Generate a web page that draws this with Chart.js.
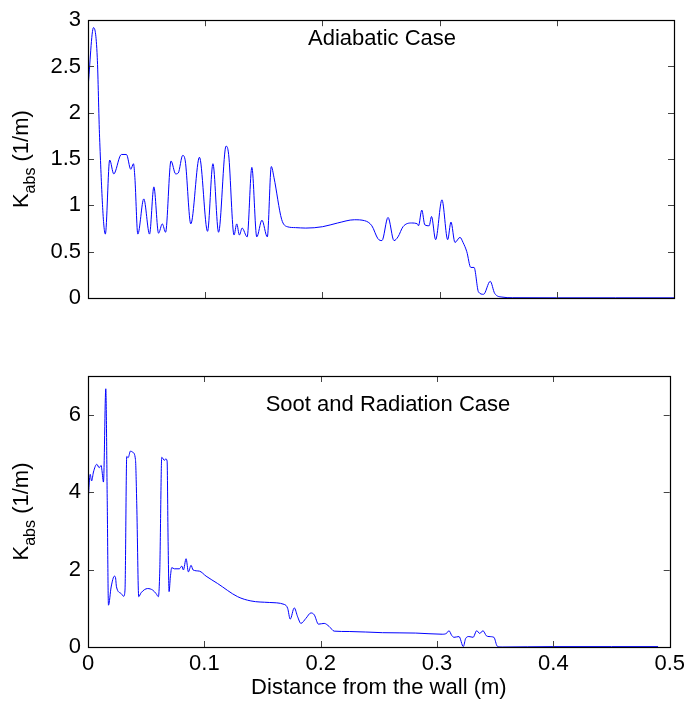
<!DOCTYPE html>
<html>
<head>
<meta charset="utf-8">
<script src="https://cdn.jsdelivr.net/npm/chart.js@4/dist/chart.umd.min.js"></script>
<style>
html,body{margin:0;padding:0;background:#fff;}
#wrap{position:relative;width:689px;height:703px;}
canvas{position:absolute;left:0;}
</style>
</head>
<body>
<div id="wrap">
<canvas id="c1" width="689" height="345" style="top:0px"></canvas>
<canvas id="c2" width="689" height="358" style="top:345px"></canvas>
</div>
<script>
// ---------- data ----------
const adiabaticX = [0, 0.0047, 0.0079, 0.0099, 0.0148, 0.0185, 0.022, 0.0228, 0.0285, 0.0328, 0.0365, 0.0388, 0.040, 0.0425, 0.0476, 0.0525, 0.0562, 0.0602, 0.0634, 0.0662, 0.0708, 0.0748, 0.077, 0.0808, 0.083, 0.0877, 0.0951, 0.102, 0.1066, 0.1114, 0.1178, 0.120, 0.1246, 0.1269, 0.1292, 0.1315, 0.1358, 0.1398, 0.144, 0.1484, 0.153, 0.1564, 0.1587, 0.1652, 0.170, 0.177, 0.1858, 0.2002, 0.213, 0.2273, 0.236, 0.2422, 0.2474, 0.2508, 0.256, 0.2611, 0.2645, 0.2688, 0.276, 0.2811, 0.282, 0.2848, 0.2874, 0.2911, 0.2931, 0.2966, 0.302, 0.3069, 0.3097, 0.3131, 0.3174, 0.32, 0.3232, 0.3266, 0.3294, 0.3332, 0.3375, 0.3432, 0.347, 0.3532, 0.362, 0.40, 0.45, 0.50];
const adiabaticK = [2.27, 2.92, 2.6, 1.73, 0.69, 1.49, 1.34, 1.35, 1.55, 1.55, 1.39, 1.45, 1.3, 0.69, 1.07, 0.69, 1.2, 0.7, 0.8, 0.71, 1.48, 1.34, 1.35, 1.54, 1.48, 0.8, 1.52, 0.72, 1.45, 0.71, 1.64, 1.55, 0.68, 0.8, 0.68, 0.755, 0.66, 1.41, 0.66, 0.84, 0.66, 1.42, 1.3, 0.85, 0.77, 0.76, 0.755, 0.77, 0.81, 0.845, 0.835, 0.78, 0.64, 0.62, 0.87, 0.62, 0.66, 0.77, 0.81, 0.8, 0.78, 0.95, 0.79, 0.78, 0.88, 0.63, 1.06, 0.63, 0.82, 0.6, 0.655, 0.6, 0.5, 0.33, 0.33, 0.065, 0.04, 0.18, 0.05, 0.01, 0.003, 0.002, 0.002, 0.002];

const sootX = [0, 0.0019, 0.0031, 0.0047, 0.0076, 0.0096, 0.0113, 0.012, 0.0133, 0.0153, 0.0165, 0.0176, 0.0199, 0.0227, 0.0236, 0.0245, 0.0285, 0.0307, 0.0318, 0.0333, 0.0345, 0.0365, 0.0385, 0.0408, 0.0419, 0.0436, 0.0456, 0.0513, 0.0556, 0.0585, 0.0605, 0.0617, 0.0634, 0.0657, 0.0668, 0.068, 0.0688, 0.0697, 0.0708, 0.072, 0.0742, 0.0785, 0.0806, 0.082, 0.0843, 0.0863, 0.0886, 0.0903, 0.0957, 0.1015, 0.1114, 0.1286, 0.14, 0.1558, 0.1687, 0.1716, 0.1738, 0.1773, 0.1802, 0.183, 0.1873, 0.1916, 0.1945, 0.1981, 0.203, 0.2073, 0.2116, 0.2245, 0.253, 0.2817, 0.3045, 0.308, 0.3103, 0.3126, 0.3146, 0.3189, 0.3226, 0.3246, 0.3275, 0.331, 0.3341, 0.3367, 0.3395, 0.3424, 0.3447, 0.3489, 0.3518, 0.356, 0.40, 0.45, 0.49];
const sootK = [3.72, 4.46, 4.29, 4.52, 4.72, 4.63, 4.69, 4.56, 4.26, 6.67, 3.87, 1.08, 1.55, 1.83, 1.8, 1.55, 1.38, 1.31, 1.47, 4.92, 4.89, 5.06, 5.03, 4.84, 3.7, 1.3, 1.4, 1.51, 1.47, 1.38, 1.3, 1.99, 4.9, 4.82, 4.86, 4.8, 2.84, 1.43, 1.81, 2.05, 2.02, 2.02, 2.09, 1.99, 2.28, 1.94, 2.11, 1.99, 1.96, 1.83, 1.64, 1.3, 1.19, 1.15, 1.1, 1.0, 0.72, 1.01, 0.78, 0.61, 0.74, 0.88, 0.83, 0.59, 0.61, 0.53, 0.41, 0.40, 0.37, 0.36, 0.33, 0.35, 0.42, 0.3, 0.25, 0.27, 0.01, 0.22, 0.27, 0.25, 0.42, 0.35, 0.42, 0.29, 0.27, 0.25, 0.02, 0.0, 0.01, 0.01, 0.01];

const xTicks = [0, 0.1, 0.2, 0.3, 0.4, 0.5];
const topYTicks = [0, 0.5, 1, 1.5, 2, 2.5, 3];
const bottomYTicks = [0, 2, 4, 6];
const topTitle = 'Adiabatic Case';
const bottomTitle = 'Soot and Radiation Case';
const xTitle = 'Distance from the wall (m)';

// ---------- helpers ----------
const FONT = '"Liberation Sans", Arial, Helvetica, sans-serif';
const FS = 22;
Chart.defaults.font.family = FONT;
Chart.defaults.color = '#000';

function pts(xs, ys){ return xs.map((x,i)=>({x:x, y:ys[i]})); }
function fmt(v){ return String(Math.round(v * 100) / 100); }

const framePlugin = {
  id: 'frame',
  afterDraw(chart, args, opts){
    const ctx = chart.ctx, a = chart.chartArea;
    const xs = chart.scales.x, ys = chart.scales.y;
    ctx.save();
    // inward ticks
    ctx.strokeStyle = '#444';
    ctx.lineWidth = 1;
    const L = 6;
    ctx.beginPath();
    opts.xTicks.forEach(v=>{
      const px = Math.round(xs.getPixelForValue(v)) + 0.5;
      ctx.moveTo(px, a.bottom); ctx.lineTo(px, a.bottom - L);
      ctx.moveTo(px, a.top); ctx.lineTo(px, a.top + L);
    });
    opts.yTicks.forEach(v=>{
      const py = Math.round(ys.getPixelForValue(v)) + 0.5;
      ctx.moveTo(a.left, py); ctx.lineTo(a.left + L, py);
      ctx.moveTo(a.right, py); ctx.lineTo(a.right - L, py);
    });
    ctx.stroke();
    // box
    ctx.strokeStyle = '#000';
    ctx.lineWidth = 1.2;
    ctx.strokeRect(Math.round(a.left)+0.5, Math.round(a.top)+0.5, Math.round(a.right-a.left), Math.round(a.bottom-a.top));
    // annotation text
    ctx.fillStyle = '#000';
    ctx.font = FS + 'px ' + FONT;
    ctx.textAlign = 'center';
    ctx.textBaseline = 'middle';
    ctx.fillText(opts.label, opts.labelX, opts.labelY);
    // y-axis title  K_abs (1/m)
    const cy = (a.top + a.bottom) / 2;
    ctx.translate(28, cy);
    ctx.rotate(-Math.PI/2);
    ctx.textAlign = 'left';
    ctx.textBaseline = 'alphabetic';
    const big = FS + 'px ' + FONT, small = '16px ' + FONT;
    ctx.font = big; const wK = ctx.measureText('K').width;
    ctx.font = small; const wS = ctx.measureText('abs').width;
    ctx.font = big; const wR = ctx.measureText(' (1/m)').width;
    let x0 = -(wK + wS + wR) / 2;
    ctx.font = big; ctx.fillText('K', x0, 0);
    ctx.font = small; ctx.fillText('abs', x0 + wK, 7);
    ctx.font = big; ctx.fillText(' (1/m)', x0 + wK + wS, 0);
    ctx.restore();
  }
};

function makeChart(id, xs, ys, yMax, yStep, showX, xHeight, padTop, label, labelX, labelY, yTicks){
  return new Chart(document.getElementById(id), {
    type: 'line',
    data: { datasets: [{ data: pts(xs, ys), borderColor: '#0000ff', borderWidth: 1, pointRadius: 0, cubicInterpolationMode: 'monotone', fill: false }] },
    options: {
      responsive: false, animation: false, devicePixelRatio: 1,
      layout: { padding: { left: 0, right: 15, top: padTop, bottom: 0 } },
      plugins: { legend: { display: false }, tooltip: { enabled: false },
        frame: { xTicks: xTicks, yTicks: yTicks, label: label, labelX: labelX, labelY: labelY } },
      scales: {
        x: { type: 'linear', min: 0, max: 0.5,
          grid: { display: false, drawTicks: false },
          border: { display: false },
          ticks: { display: showX, stepSize: 0.1, padding: 4, font: { size: FS }, color: '#000', maxRotation: 0, callback: v => fmt(v) },
          title: { display: showX, text: xTitle, font: { size: FS }, color: '#000', padding: { top: 0, bottom: 2 } },
          afterFit: s => { s.height = xHeight; }
        },
        y: { min: 0, max: yMax,
          grid: { display: false, drawTicks: false },
          border: { display: false },
          ticks: { stepSize: yStep, includeBounds: false, padding: 7, font: { size: FS }, color: '#000', callback: v => fmt(v) },
          afterFit: s => { s.width = 88; }
        }
      }
    },
    plugins: [framePlugin]
  });
}

makeChart('c1', adiabaticX, adiabaticK, 3, 0.5, false, 47, 13, topTitle, 382, 39, topYTicks);
makeChart('c2', sootX, sootK, 7, 2, true, 56, 31, bottomTitle, 388, 60, bottomYTicks);
</script>
</body>
</html>
